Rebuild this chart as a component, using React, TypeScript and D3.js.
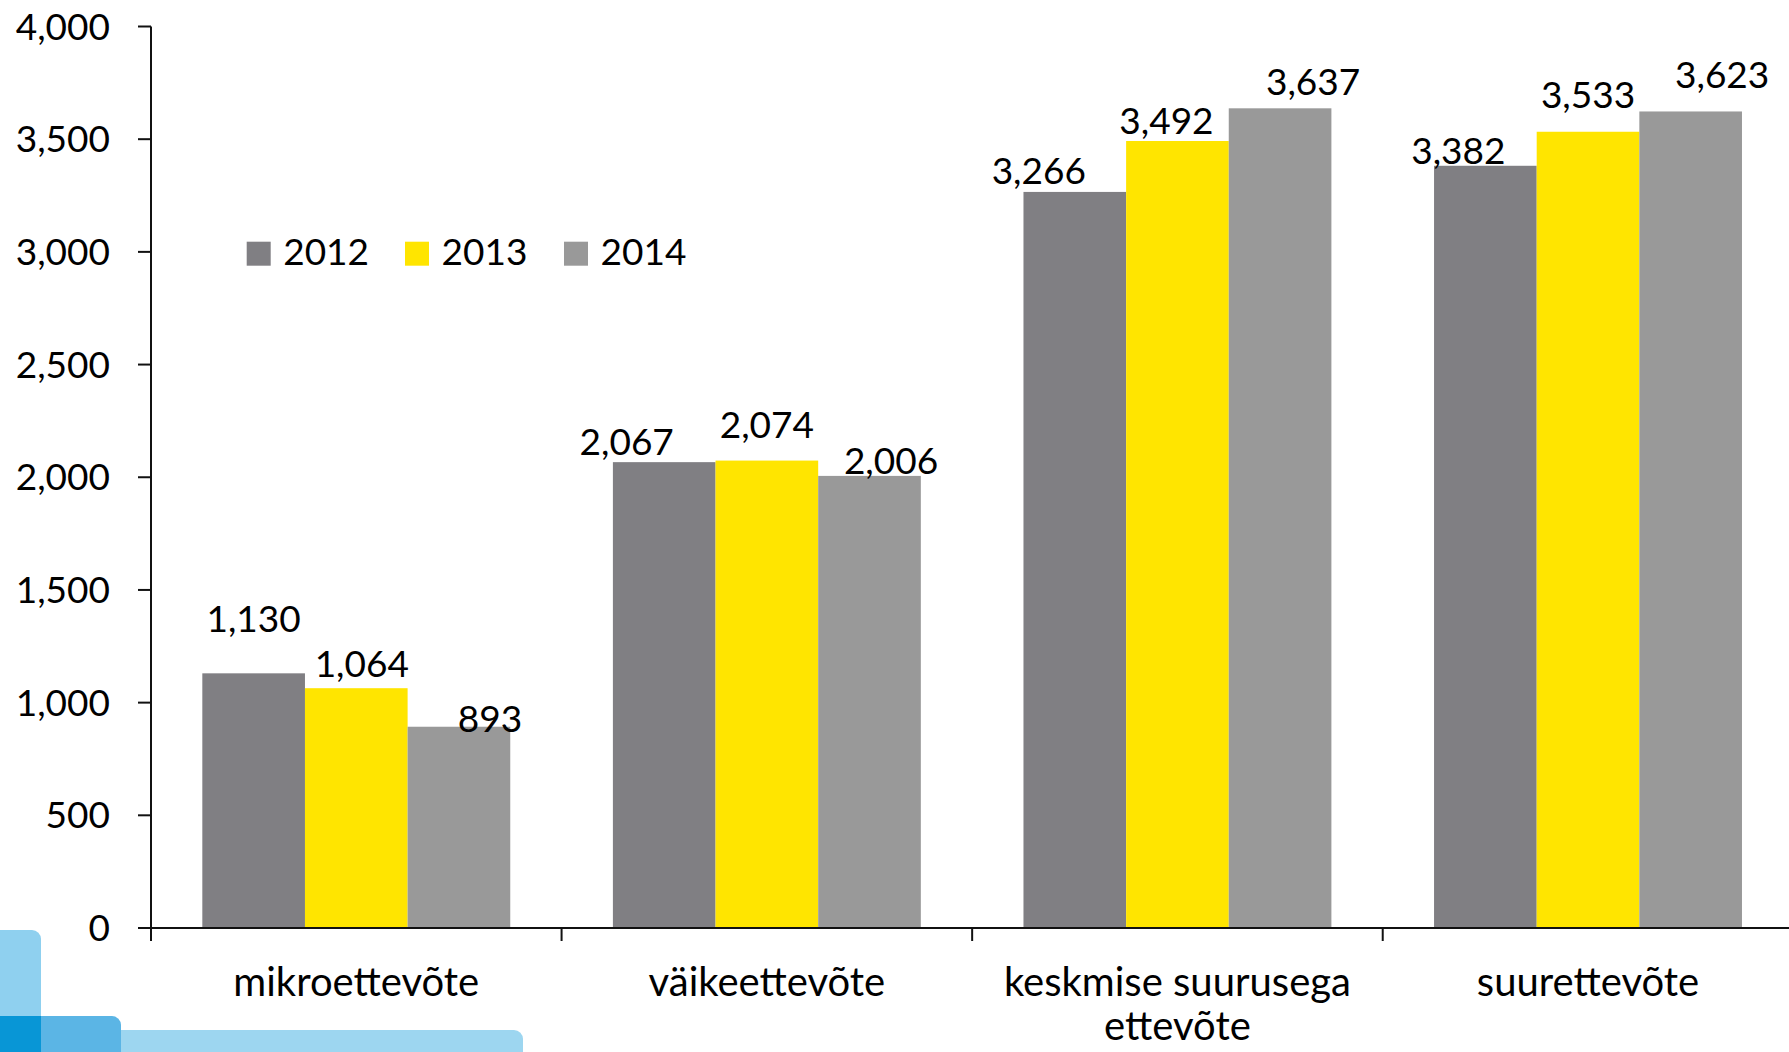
import React from 'react';
import * as d3 from 'd3';

const categories: string[][] = [
  ['mikroettevõte'],
  ['väikeettevõte'],
  ['keskmise suurusega', 'ettevõte'],
  ['suurettevõte'],
];
const seriesNames = ['2012', '2013', '2014'];
const values2012 = [1130, 2067, 3266, 3382];
const values2013 = [1064, 2074, 3492, 3533];
const values2014 = [893, 2006, 3637, 3623];
const seriesValues = [values2012, values2013, values2014];
const yTicks = [0, 500, 1000, 1500, 2000, 2500, 3000, 3500, 4000];
const seriesColors = ['#807f83', '#ffe500', '#999999'];

// label placement nudges (dx, baseline height above bar top), per category per series
const labelNudges: [number, number][][] = [
  [[0, 41], [5.5, 11.5], [31, -5]],
  [[-37.5, 7.3], [0, 23], [21.5, 1.7]],
  [[-36, 8.3], [-11, 7], [33, 13]],
  [[-27, 2], [0, 24], [31.5, 23.4]],
];

const W = 1789;
const H = 1052;
const FONT = 'Lato, "Open Sans", sans-serif';
const FS = 37;
const FS_CAT = 40;

export default function App() {
  const y = d3.scaleLinear().domain([0, 4000]).range([928, 26.5]);
  const catIdx = categories.map((_, i) => String(i));
  const x0 = d3.scaleBand<string>().domain(catIdx).range([151, 1793.3]).paddingInner(0).paddingOuter(0);
  const x1 = d3
    .scaleBand<string>()
    .domain(seriesNames)
    .range([0, x0.bandwidth()])
    .paddingInner(0)
    .paddingOuter(0.5);
  const fmt = d3.format(',');
  const axisY0 = y(0);
  const legendX = [246.7, 405, 564];

  return (
    <svg width={W} height={H} style={{ position: 'absolute', left: 0, top: 0 }} fontFamily={FONT}>
      <rect x={0} y={0} width={W} height={H} fill="#ffffff" />
      {/* decoration bottom-left */}
      <rect x={-20} y={930} width={61} height={160} rx={9} fill="#8fd0ef" />
      <rect x={110} y={1030} width={413} height={60} rx={9} fill="#9dd6f0" />
      <rect x={-20} y={1016} width={141} height={80} rx={9} fill="#5bb5e5" />
      <rect x={-20} y={1016} width={61} height={80} fill="#0896d6" />

      {/* bars */}
      {categories.map((_, ci) =>
        seriesNames.map((s, si) => {
          const v = seriesValues[si][ci];
          const bx = (x0(String(ci)) as number) + (x1(s) as number);
          return (
            <rect
              key={`b${ci}-${si}`}
              x={bx}
              y={y(v)}
              width={x1.bandwidth()}
              height={axisY0 - y(v)}
              fill={seriesColors[si]}
            />
          );
        })
      )}

      {/* y axis */}
      <line x1={151} x2={151} y1={y(4000)} y2={941} stroke="#111" strokeWidth={2} />
      {yTicks.map((t) => (
        <g key={`yt${t}`}>
          <line x1={138} x2={151} y1={y(t)} y2={y(t)} stroke="#111" strokeWidth={2} />
          <text x={110} y={y(t) + 13} textAnchor="end" fontSize={FS} fill="#000">
            {fmt(t)}
          </text>
        </g>
      ))}

      {/* x axis */}
      <line x1={138} x2={W} y1={axisY0} y2={axisY0} stroke="#111" strokeWidth={2} />
      {catIdx.map((c) => (
        <line
          key={`xt${c}`}
          x1={(x0(c) as number) + x0.bandwidth()}
          x2={(x0(c) as number) + x0.bandwidth()}
          y1={axisY0}
          y2={941}
          stroke="#111"
          strokeWidth={2}
        />
      ))}
      {categories.map((lines, ci) => (
        <text
          key={`cl${ci}`}
          x={(x0(String(ci)) as number) + x0.bandwidth() / 2}
          y={996}
          textAnchor="middle"
          fontSize={FS_CAT}
          fill="#000"
        >
          {lines.map((ln, li) => (
            <tspan key={li} x={(x0(String(ci)) as number) + x0.bandwidth() / 2} dy={li === 0 ? 0 : 44}>
              {ln}
            </tspan>
          ))}
        </text>
      ))}

      {/* data labels */}
      {categories.map((_, ci) =>
        seriesNames.map((s, si) => {
          const v = seriesValues[si][ci];
          const cx = (x0(String(ci)) as number) + (x1(s) as number) + x1.bandwidth() / 2;
          const [dx, up] = labelNudges[ci][si];
          return (
            <text
              key={`l${ci}-${si}`}
              x={cx + dx}
              y={y(v) - up}
              textAnchor="middle"
              fontSize={FS}
              fill="#000"
            >
              {fmt(v)}
            </text>
          );
        })
      )}

      {/* legend */}
      {seriesNames.map((s, si) => (
        <g key={`lg${s}`}>
          <rect x={legendX[si]} y={241.7} width={24} height={24} fill={seriesColors[si]} />
          <text x={legendX[si] + 36.5} y={265} fontSize={FS} fill="#000">
            {s}
          </text>
        </g>
      ))}
    </svg>
  );
}
